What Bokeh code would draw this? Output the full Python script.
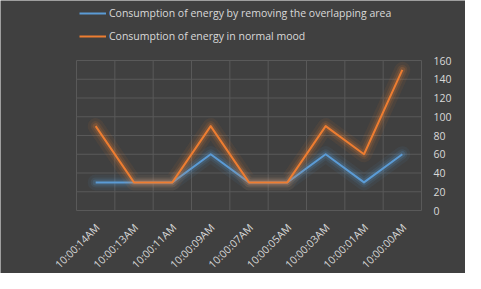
import numpy as np
from bokeh.plotting import figure
from bokeh.models import Range1d, Legend, LegendItem
from bokeh.core.properties import value
from bokeh.embed import file_html
from bokeh.resources import INLINE
from math import pi

times = ["10:00:14AM", "10:00:13AM", "10:00:11AM", "10:00:09AM", "10:00:07AM",
         "10:00:05AM", "10:00:03AM", "10:00:01AM", "10:00:00AM"]
removing_overlap = [30, 30, 30, 60, 30, 30, 60, 30, 60]
normal_mood = [90, 30, 30, 90, 30, 30, 90, 60, 150]
y_ticks = [0, 20, 40, 60, 80, 100, 120, 140, 160]
series_names = ["Consumption of energy by removing the overlapping area",
                "Consumption of energy in normal mood"]

BG = "#404040"
BLUE = "#5b9bd5"
ORANGE = "#ed7d31"
TXT = "#d9d9d9"
GRID = "#595959"
FONT = "Open Sans"

W, H = 465, 273
LEFT_SPACE, RIGHT_SPACE = 76, 44   # px left / right of the plotting area
TOP_SPACE, BOTTOM_SPACE = 60, 63   # px above 160 / below 0
n = len(times)
px_per_cat = (W - LEFT_SPACE - RIGHT_SPACE) / n
px_per_unit = (H - TOP_SPACE - BOTTOM_SPACE) / y_ticks[-1]
x_min, x_max = -LEFT_SPACE / px_per_cat, n + RIGHT_SPACE / px_per_cat
y_min, y_max = -BOTTOM_SPACE / px_per_unit, y_ticks[-1] + TOP_SPACE / px_per_unit

xs = list(np.arange(n) + 0.5)

p = figure(width=W, height=H, output_backend="svg", toolbar_location=None,
           x_range=Range1d(x_min, x_max), y_range=Range1d(y_min, y_max),
           min_border=0)
p.background_fill_color = BG
p.border_fill_color = BG
p.outline_line_color = None
p.axis.visible = False
p.grid.visible = False

# gridlines limited to the plotting area
bounds = list(range(n + 1))
p.segment(x0=bounds, y0=[y_ticks[0]] * len(bounds), x1=bounds, y1=[y_ticks[-1]] * len(bounds),
          line_color=GRID, line_width=1)
p.segment(x0=[0] * len(y_ticks), y0=y_ticks, x1=[n] * len(y_ticks), y1=y_ticks,
          line_color=GRID, line_width=1)

# value labels on the right
p.text(x=[n] * len(y_ticks), y=y_ticks, text=[str(t) for t in y_ticks],
       x_offset=12, text_align="left", text_baseline="middle",
       text_color=TXT, text_font=value(FONT), text_font_size="10.5px")

# category labels (rotated), just below 0
label_y = -15 / px_per_unit
p.text(x=xs, y=[label_y] * n, text=times, angle=pi / 4,
       text_align="right", text_baseline="middle", x_offset=2,
       text_color=TXT, text_font=value(FONT), text_font_size="10.5px")

renderers = []
for series, col in ((removing_overlap, BLUE), (normal_mood, ORANGE)):
    for w, a in ((16, 0.07), (10, 0.11), (6, 0.18)):
        p.line(xs, series, line_color=col, line_width=w, line_alpha=a, line_join="round", line_cap="round")
    renderers.append(p.line(xs, series, line_color=col, line_width=2, line_join="round"))

legend = Legend(items=[LegendItem(label=nm, renderers=[r]) for nm, r in zip(series_names, renderers)],
                location=(LEFT_SPACE + 3, H - 46), orientation="vertical")
legend.background_fill_alpha = 0
legend.border_line_color = None
legend.padding = 0
legend.margin = 0
legend.spacing = 3
legend.glyph_width = 27
legend.glyph_height = 20
legend.label_height = 20
legend.label_standoff = 3
legend.label_text_color = TXT
legend.label_text_font = FONT
legend.label_text_font_size = "10.5px"
p.add_layout(legend, "center")

open("out.html", "w").write(file_html(p, INLINE))
